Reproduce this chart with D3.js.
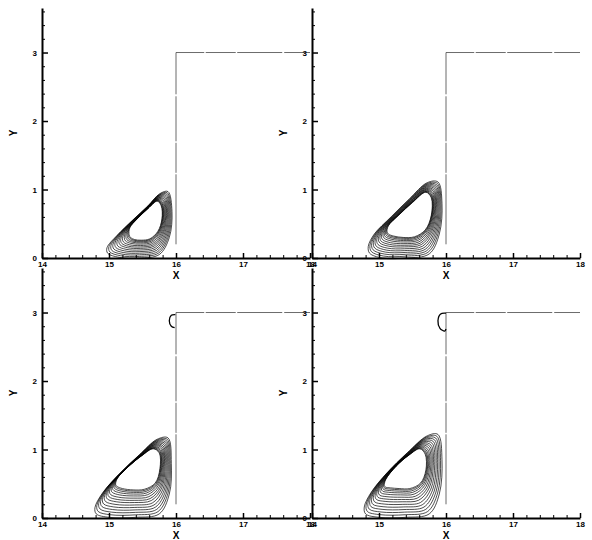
<!DOCTYPE html>
<html>
<head>
<meta charset="utf-8">
<script src="https://cdn.jsdelivr.net/npm/d3@7"></script>
<style>
  html, body { margin: 0; padding: 0; background: #fff; }
  text { font-family: "Liberation Sans", Arial, sans-serif; font-weight: bold; fill: #000; }
</style>
</head>
<body>
<svg id="chart" width="592" height="540"></svg>
<script>
// ---------- data ----------
const xTicks = [14, 15, 16, 17, 18];
const yTicks = [0, 1, 2, 3];
const xLabel = "X";
const yLabel = "Y";

// wall / step boundary
const stepX = [16, 16, 18];
const stepY = [0.2, 3, 3];

// outer contour ring of each panel (x, y)
const outer1 = [[14.97,0.15],[15.12,0.33],[15.35,0.55],[15.58,0.76],[15.76,0.94],[15.88,0.97],[15.94,0.68],[15.9,0.3],[15.75,0.05],[15.45,0.0],[15.15,0.01],[14.98,0.07]];
const outer2 = [[14.84,0.17],[14.93,0.35],[15.18,0.6],[15.45,0.86],[15.72,1.1],[15.88,1.11],[15.94,0.8],[15.9,0.35],[15.75,0.06],[15.4,0.0],[15.05,0.0],[14.86,0.07]];
const outer3 = [[14.79,0.15],[14.9,0.36],[15.15,0.64],[15.45,0.92],[15.72,1.15],[15.88,1.17],[15.93,0.8],[15.9,0.35],[15.75,0.06],[15.4,0.01],[15.0,0.01],[14.81,0.06]];
const outer4 = [[14.78,0.16],[14.88,0.37],[15.12,0.66],[15.42,0.95],[15.72,1.2],[15.88,1.22],[15.94,0.85],[15.9,0.35],[15.75,0.06],[15.4,0.01],[15.0,0.01],[14.8,0.06]];

// innermost contour ring (edge of the vortex core) of each panel
const inner1 = [[15.3,0.34],[15.31,0.44],[15.42,0.57],[15.58,0.72],[15.72,0.83],[15.78,0.76],[15.79,0.57],[15.73,0.39],[15.61,0.28],[15.48,0.26],[15.38,0.27],[15.32,0.3]];
const inner2 = [[15.12,0.38],[15.14,0.47],[15.3,0.63],[15.5,0.81],[15.7,0.96],[15.78,0.88],[15.78,0.62],[15.69,0.41],[15.53,0.31],[15.36,0.3],[15.22,0.32],[15.14,0.35]];
const inner3 = [[15.1,0.48],[15.12,0.57],[15.29,0.75],[15.49,0.91],[15.66,1.01],[15.75,0.95],[15.76,0.72],[15.69,0.51],[15.53,0.42],[15.36,0.41],[15.2,0.43],[15.12,0.46]];
const inner4 = [[15.08,0.47],[15.1,0.56],[15.26,0.76],[15.45,0.92],[15.61,1.01],[15.69,0.93],[15.7,0.7],[15.62,0.51],[15.46,0.43],[15.3,0.43],[15.17,0.44],[15.1,0.45]];

// contour level positions between outer (0) and inner (1) ring
const contourLevels = [0, 0.09, 0.18, 0.27, 0.36, 0.45, 0.54, 0.62, 0.70, 0.78, 0.85, 0.91, 0.96, 1.0];

// small corner vortex near (16, 3) in the lower panels
const corner3 = [[15.99,2.97],[15.93,2.96],[15.9,2.88],[15.93,2.8],[15.98,2.78]];
const corner4 = [[16.0,2.99],[15.92,2.98],[15.88,2.88],[15.91,2.77],[15.98,2.73],[16.0,2.76]];

// ---------- layout ----------
const panels = [
  { ox: 42,  oy: 258, outer: outer1, inner: inner1, corner: null },
  { ox: 312, oy: 258, outer: outer2, inner: inner2, corner: null },
  { ox: 42,  oy: 518, outer: outer3, inner: inner3, corner: corner3 },
  { ox: 312, oy: 518, outer: outer4, inner: inner4, corner: corner4 }
];
const W = 268, H = 250;

const svg = d3.select("#chart");
const x = d3.scaleLinear().domain([14, 18]).range([0, W]);
const y = d3.scaleLinear().domain([0, 3.65]).range([H, 0]);

const closedLine = d3.line().x(d => x(d[0])).y(d => y(d[1])).curve(d3.curveCatmullRomClosed.alpha(0.5));
const openLine = d3.line().x(d => x(d[0])).y(d => y(d[1])).curve(d3.curveCatmullRom.alpha(0.5));
const polyLine = d3.line().x(d => x(d[0])).y(d => y(d[1]));

const xMinor = d3.range(14, 18.001, 0.2).filter(v => Math.abs(v - Math.round(v)) > 1e-6);
const yMinor = d3.range(0, 3.61, 0.2).filter(v => Math.abs(v - Math.round(v)) > 1e-6);

panels.forEach(p => {
  const g = svg.append("g").attr("transform", `translate(${p.ox},${p.oy - H})`);

  // step boundary
  g.append("path")
    .datum(stepX.map((v, i) => [v, stepY[i]]))
    .attr("d", polyLine)
    .attr("fill", "none")
    .attr("stroke", "#444")
    .attr("stroke-width", 0.8)
    .attr("stroke-dasharray", "70,1.5,30,1.5,45,2");

  // contours
  contourLevels.forEach(t => {
    const ring = p.outer.map((o, i) => [o[0] * (1 - t) + p.inner[i][0] * t, o[1] * (1 - t) + p.inner[i][1] * t]);
    g.append("path")
      .attr("d", closedLine(ring))
      .attr("fill", "none")
      .attr("stroke", "#000")
      .attr("stroke-width", 0.7);
  });

  if (p.corner) {
    g.append("path")
      .attr("d", openLine(p.corner))
      .attr("fill", "none")
      .attr("stroke", "#000")
      .attr("stroke-width", 1.3);
  }

  // axes: minor ticks
  g.append("g").attr("transform", `translate(0,${H})`)
    .call(d3.axisBottom(x).tickValues(xMinor).tickSize(-3).tickFormat(""))
    .call(a => a.select(".domain").remove());
  g.append("g")
    .call(d3.axisLeft(y).tickValues(yMinor).tickSize(-3).tickFormat(""))
    .call(a => a.select(".domain").remove());

  // major
  const xa = g.append("g").attr("transform", `translate(0,${H})`)
    .call(d3.axisBottom(x).tickValues(xTicks).tickSizeInner(-5).tickSizeOuter(0).tickPadding(3).tickFormat(d3.format("d")));
  const ya = g.append("g")
    .call(d3.axisLeft(y).tickValues(yTicks).tickSizeInner(-6).tickSizeOuter(0).tickPadding(5).tickFormat(d3.format("d")));
  [xa, ya].forEach(a => {
    a.select(".domain").attr("stroke", "#000").attr("stroke-width", 2);
    a.selectAll(".tick line").attr("stroke", "#000").attr("stroke-width", 1.5);
    a.selectAll(".tick text").style("font-size", "8px").style("font-family", "'Liberation Sans', Arial, sans-serif").style("font-weight", "bold");
  });
  g.selectAll(".tick line").attr("stroke", "#000");

  // axis titles
  g.append("text")
    .attr("x", W / 2).attr("y", H + 21)
    .attr("text-anchor", "middle")
    .style("font-size", "10px")
    .text(xLabel);
  g.append("text")
    .attr("transform", `translate(-25,${H - 125}) rotate(-90)`)
    .attr("text-anchor", "middle")
    .style("font-size", "10px")
    .text(yLabel);
});
</script>
</body>
</html>
